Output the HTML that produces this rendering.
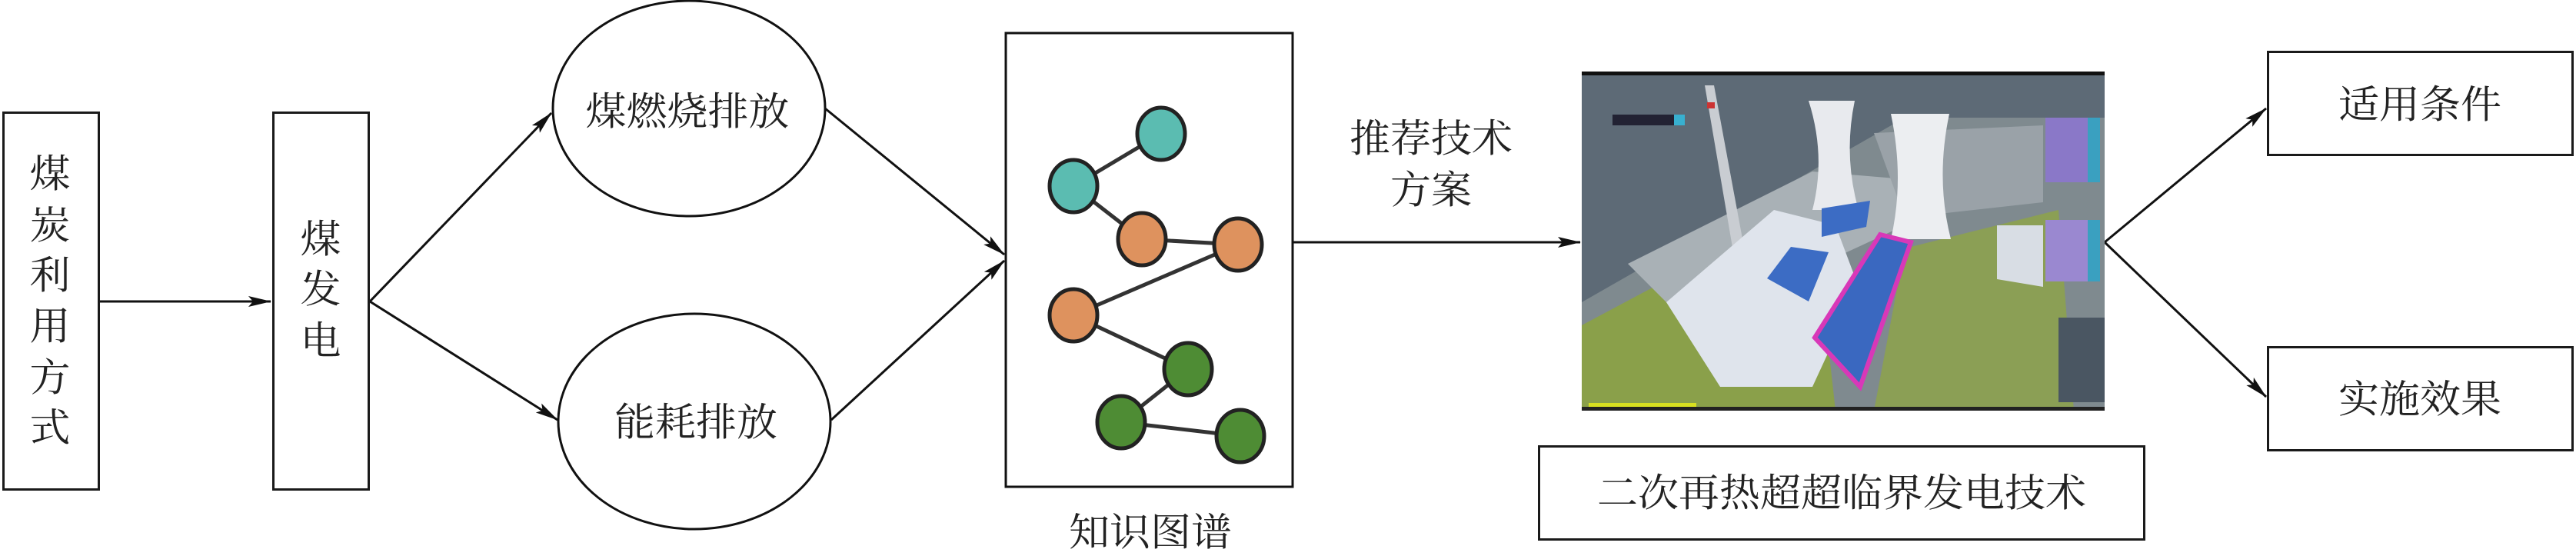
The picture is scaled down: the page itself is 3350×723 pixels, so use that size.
<!DOCTYPE html>
<html><head><meta charset="utf-8">
<style>
html,body{margin:0;padding:0;background:#fff;}
body{width:3350px;height:723px;position:relative;overflow:hidden;font-family:"Liberation Serif","Noto Serif CJK SC","Noto Sans CJK SC",serif;color:#222;}
.box{position:absolute;border:3px solid #1a1a1a;box-sizing:border-box;background:#fff;}
.t{position:absolute;font-size:53px;line-height:1;white-space:nowrap;transform:translate(-50%,-50%) scaleY(0.95);}
</style></head><body>
<svg width="3350" height="723" style="position:absolute;left:0;top:0">
<defs>
<marker id="b" markerWidth="30" markerHeight="14" refX="29" refY="7" orient="auto" markerUnits="userSpaceOnUse" viewBox="0 0 30 14">
<path d="M0,0 L30,7 L0,14 L6,7 z" fill="#111"/></marker>
</defs>
<g stroke="#111" stroke-width="3" fill="none">
<line x1="130" y1="392" x2="352" y2="392" marker-end="url(#b)"/>
<line x1="481" y1="392" x2="717" y2="147" marker-end="url(#b)"/>
<line x1="481" y1="392" x2="725" y2="546" marker-end="url(#b)"/>
<line x1="1073" y1="141" x2="1306" y2="331" marker-end="url(#b)"/>
<line x1="1081" y1="546" x2="1306" y2="339" marker-end="url(#b)"/>
<line x1="1682" y1="315" x2="2055" y2="315" marker-end="url(#b)"/>
<line x1="2737" y1="315" x2="2947" y2="141" marker-end="url(#b)"/>
<line x1="2737" y1="315" x2="2947" y2="516" marker-end="url(#b)"/>
<ellipse cx="896" cy="141" rx="177" ry="140" fill="#fff"/>
<ellipse cx="903" cy="548" rx="177" ry="140" fill="#fff"/>
</g>
<rect x="1308" y="43" width="373" height="590" fill="#fff" stroke="#111" stroke-width="3"/>
<g stroke="#333" stroke-width="5">
<line x1="1510" y1="174" x2="1396" y2="242"/>
<line x1="1396" y1="242" x2="1485" y2="311"/>
<line x1="1485" y1="311" x2="1610" y2="318"/>
<line x1="1610" y1="318" x2="1396" y2="410"/>
<line x1="1396" y1="410" x2="1545" y2="480"/>
<line x1="1545" y1="480" x2="1458" y2="549"/>
<line x1="1458" y1="549" x2="1613" y2="567"/>
</g>
<g stroke="#222" stroke-width="5">
<ellipse cx="1510" cy="174" rx="31" ry="34" fill="#5bbcb1"/>
<ellipse cx="1396" cy="242" rx="31" ry="34" fill="#5bbcb1"/>
<ellipse cx="1485" cy="311" rx="31" ry="34" fill="#de925e"/>
<ellipse cx="1610" cy="318" rx="31" ry="34" fill="#de925e"/>
<ellipse cx="1396" cy="410" rx="31" ry="34" fill="#de925e"/>
<ellipse cx="1545" cy="480" rx="31" ry="34" fill="#4e8c34"/>
<ellipse cx="1458" cy="549" rx="31" ry="34" fill="#4e8c34"/>
<ellipse cx="1613" cy="567" rx="31" ry="34" fill="#4e8c34"/>
</g>
<g transform="translate(2057,93)">
<rect x="0" y="0" width="680" height="441" fill="#5d6a76"/>
<rect x="0" y="0" width="680" height="5" fill="#111"/>
<polygon points="0,300 420,60 680,60 680,441 0,441" fill="#7f8a8f"/>
<polygon points="0,330 300,170 330,441 0,441" fill="#8aa04a"/>
<polygon points="420,230 620,180 640,441 380,441" fill="#8b9f55"/>
<polygon points="60,250 300,130 420,140 420,200 140,330" fill="#a9b1b6"/>
<polygon points="380,80 600,70 600,170 420,190" fill="#9aa2a8"/>
<polygon points="540,200 600,200 600,280 540,270" fill="#d8dde4"/>
<polygon points="160,18 172,18 215,250 200,252" fill="#c9cdd2"/>
<rect x="163" y="40" width="10" height="8" fill="#c33"/>
<path d="M295,38 L355,38 Q340,110 360,180 L300,180 Q318,110 295,38z" fill="#e8eaee"/>
<path d="M402,55 L478,55 Q460,140 480,218 L402,218 Q420,140 402,55z" fill="#eceef1"/>
<polygon points="110,300 250,180 330,200 360,280 300,410 180,410" fill="#dfe4ec"/>
<polygon points="312,178 375,168 370,202 312,215" fill="#3c6cc4"/>
<polygon points="241,269 272,228 321,235 295,299" fill="#3c6cc4"/>
<polygon points="303,346 388,212 428,222 362,410" fill="#3a68c0" stroke="#d838b8" stroke-width="6"/>
<rect x="603" y="60" width="55" height="84" fill="#8a78c8"/>
<rect x="658" y="60" width="16" height="84" fill="#3aa0c0"/>
<rect x="603" y="193" width="55" height="80" fill="#9a88d0"/>
<rect x="658" y="193" width="16" height="80" fill="#3aa0c0"/>
<rect x="40" y="56" width="80" height="14" fill="#223"/>
<rect x="120" y="56" width="14" height="14" fill="#38b0d0"/>
<rect x="620" y="320" width="60" height="110" fill="#4a5662"/>
<rect x="9" y="431" width="140" height="5" fill="#d8e020"/>
<rect x="0" y="436" width="680" height="5" fill="#222"/>
</g>
</svg>
<div class="box" style="left:3px;top:145px;width:127px;height:493px"></div>
<div class="box" style="left:354px;top:145px;width:127px;height:493px"></div>
<div class="box" style="left:2948px;top:66px;width:399px;height:137px"></div>
<div class="box" style="left:2948px;top:450px;width:399px;height:137px"></div>
<div class="box" style="left:2000px;top:579px;width:790px;height:124px"></div>
<div class="t" style="left:65px;top:228px">煤</div>
<div class="t" style="left:65px;top:295px">炭</div>
<div class="t" style="left:65px;top:360px">利</div>
<div class="t" style="left:65px;top:426px">用</div>
<div class="t" style="left:65px;top:493px">方</div>
<div class="t" style="left:65px;top:558px">式</div>
<div class="t" style="left:417px;top:313px">煤</div>
<div class="t" style="left:417px;top:378px">发</div>
<div class="t" style="left:417px;top:445px">电</div>
<div class="t" style="left:894px;top:147px">煤燃烧排放</div>
<div class="t" style="left:905px;top:551px">能耗排放</div>
<div class="t" style="left:1496px;top:694px">知识图谱</div>
<div class="t" style="left:1861px;top:182px">推荐技术</div>
<div class="t" style="left:1861px;top:249px">方案</div>
<div class="t" style="left:3147px;top:138px">适用条件</div>
<div class="t" style="left:3147px;top:521px">实施效果</div>
<div class="t" style="left:2395px;top:643px">二次再热超超临界发电技术</div>
</body></html>
